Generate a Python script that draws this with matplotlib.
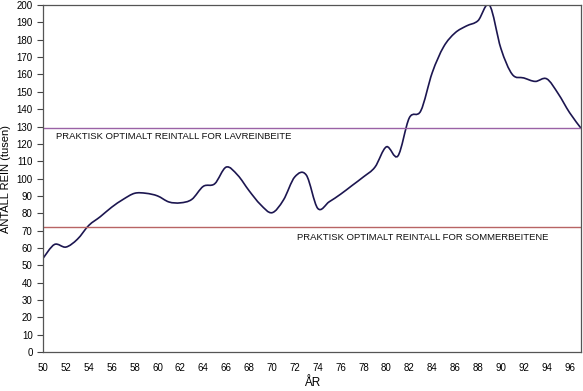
import matplotlib.pyplot as plt
import numpy as np
from matplotlib.path import Path
from matplotlib.patches import PathPatch

plt.rcParams['font.family'] = ['Liberation Sans', 'DejaVu Sans']

# reindeer numbers (thousands) per year
years = list(range(50, 98))
rein = [54, 62, 60.5, 65, 73, 78, 83.5, 88, 91.5, 91.5, 90, 86.5, 86, 88, 95.5, 97,
        106.6, 102, 93, 85, 80.3, 87.6, 101, 102, 82.8, 86.6, 91, 96, 101, 106.6,
        118.3, 113, 135, 139, 161, 176, 184, 188, 191, 200, 175, 160, 158, 156,
        157.5, 149, 138, 129]
x_ticks = list(range(50, 97, 2))
y_ticks = list(range(0, 201, 10))
lav_level = 129
sommer_level = 72
lav_text = 'PRAKTISK OPTIMALT REINTALL FOR LAVREINBEITE'
sommer_text = 'PRAKTISK OPTIMALT REINTALL FOR SOMMERBEITENE'

fig = plt.figure(figsize=(5.83, 3.91), dpi=100)
ax = fig.add_axes([0.0738, 0.0997, 0.9228, 0.8873])

# smoothed line (Excel style bezier through the points)
x = np.array(years, dtype=float)
y = np.array(rein, dtype=float)
verts = [(x[0], y[0])]
codes = [Path.MOVETO]
for i in range(len(x) - 1):
    p0 = np.array([x[max(i - 1, 0)], y[max(i - 1, 0)]])
    p1 = np.array([x[i], y[i]])
    p2 = np.array([x[i + 1], y[i + 1]])
    p3 = np.array([x[min(i + 2, len(x) - 1)], y[min(i + 2, len(x) - 1)]])
    c1 = p1 + (p2 - p0) / 6
    c2 = p2 - (p3 - p1) / 6
    verts += [tuple(c1), tuple(c2), tuple(p2)]
    codes += [Path.CURVE4] * 3
ax.add_patch(PathPatch(Path(verts, codes), fill=False, edgecolor='#1c1650', lw=1.2))

ax.axhline(lav_level, color='#9a62a6', lw=1)
ax.axhline(sommer_level, color='#b86464', lw=1)
ax.text(51.1, 124, lav_text, fontsize=6.8, va='center', ha='left', color='#111111')
ax.text(72.2, 66, sommer_text, fontsize=6.8, va='center', ha='left', color='#111111')

ax.set_xlim(50, 97)
ax.set_ylim(0, 200)
ax.set_xticks(x_ticks)
ax.set_yticks(y_ticks)
ax.tick_params(axis='x', length=0, labelsize=7, pad=8)
ax.tick_params(axis='y', length=4, width=0.8, labelsize=7, color='#444444')
for s in ax.spines.values():
    s.set_color('#555555')
    s.set_linewidth(0.9)
ax.set_xlabel('ÅR', fontsize=8.5, labelpad=3)
ax.set_ylabel('ANTALL REIN (tusen)', fontsize=8, labelpad=4)

fig.savefig('out.png', dpi=100)
